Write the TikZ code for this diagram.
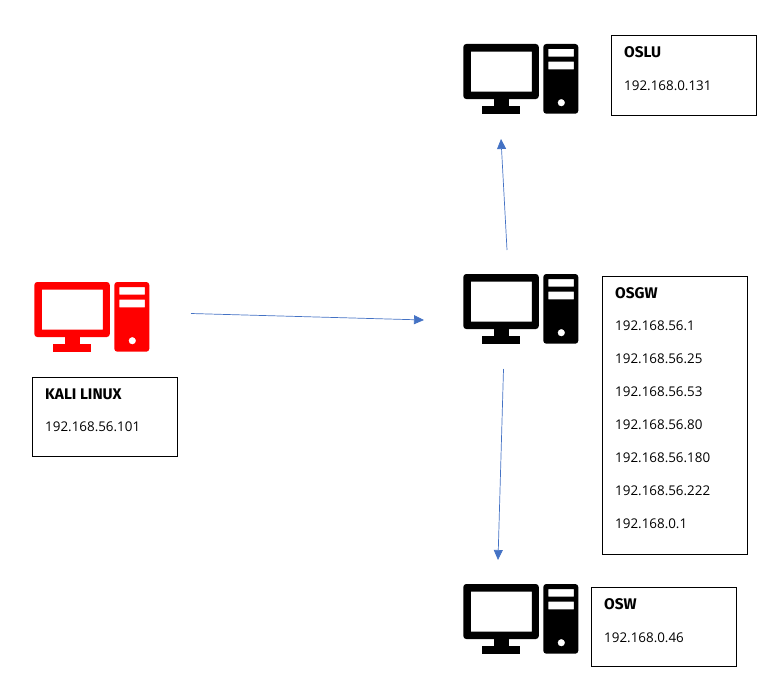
\documentclass[tikz,border=0pt]{standalone}
\usepackage{fontspec}
\setmainfont{Open Sans}
\newfontfamily\headfont{Fira Sans}
\usetikzlibrary{arrows.meta}
\definecolor{linkblue}{HTML}{4472C4}
\tikzset{
  x=1pt,y=-1pt,
  infobox/.style={draw=black,line width=0.9pt,fill=white,inner sep=0pt,anchor=north west,minimum width=145pt},
  iptext/.style={anchor=base west,inner sep=0pt,font=\fontsize{13.4}{15}\selectfont},
  headtext/.style={anchor=base west,inner sep=0pt,font=\headfont\bfseries\fontsize{15.4}{17}\selectfont},
  link/.style={draw=linkblue,line width=0.7pt,-{Triangle[length=10pt,width=9pt]}},
  pics/computer/.style={code={
    \fill[#1,even odd rule,rounded corners=3pt] (0,0) rectangle (75.5,55)
      [sharp corners] (7.5,7.7) rectangle (68.5,47.7);
    \fill[#1] (30.5,54) rectangle (45.5,62.5);
    \fill[#1] (19,62) rectangle (56.5,69.7);
    \fill[#1,even odd rule,rounded corners=3pt] (80,0) rectangle (115,69.7)
      [sharp corners] (85,5) rectangle (110.5,12.7)
      (85,17.7) rectangle (110.5,25.3)
      (98,58.7) circle (3.7);
  }},
}
\begin{document}
\begin{tikzpicture}
\useasboundingbox (0,0) rectangle (773,693);
% computers
\pic at (463.3,44) {computer=black};
\pic at (463.3,274) {computer=black};
\pic at (463.3,584) {computer=black};
\pic at (34.3,282) {computer=red};
% boxes
\node[infobox,minimum height=79pt] (oslu) at (610.5,35.5) {};
\node[infobox,minimum height=79pt] (kali) at (31.5,376.5) {};
\node[infobox,minimum height=278pt] (osgw) at (601.5,275.5) {};
\node[infobox,minimum height=79pt] (osw) at (590.5,586.5) {};
% texts
\node[headtext] (osluhead) at (624,57) {OSLU};
\node[iptext] (osluip) at (624,90) {192.168.0.131};
\node[headtext] (kalihead) at (45,399) {KALI LINUX};
\node[iptext] (kaliip) at (45,431) {192.168.56.101};
\node[headtext] (osgwhead) at (615,298) {OSGW};
\node[iptext] (gwa) at (615,330) {192.168.56.1};
\node[iptext] (gwb) at (615,363) {192.168.56.25};
\node[iptext] (gwc) at (615,396) {192.168.56.53};
\node[iptext] (gwd) at (615,429) {192.168.56.80};
\node[iptext] (gwe) at (615,462) {192.168.56.180};
\node[iptext] (gwf) at (615,495) {192.168.56.222};
\node[iptext] (gwg) at (615,528) {192.168.0.1};
\node[headtext] (oswhead) at (604,609) {OSW};
\node[iptext] (oswip) at (604,642) {192.168.0.46};
% connector ends
\coordinate (kaliout) at (191,313.5);
\coordinate (gwin) at (424,320);
\coordinate (gwup) at (507,250);
\coordinate (osluin) at (501,139);
\coordinate (gwdown) at (503.5,369);
\coordinate (oswin) at (498,560);
\draw[link] (kaliout) -- (gwin);
\draw[link] (gwup) -- (osluin);
\draw[link] (gwdown) -- (oswin);
\end{tikzpicture}
\end{document}
